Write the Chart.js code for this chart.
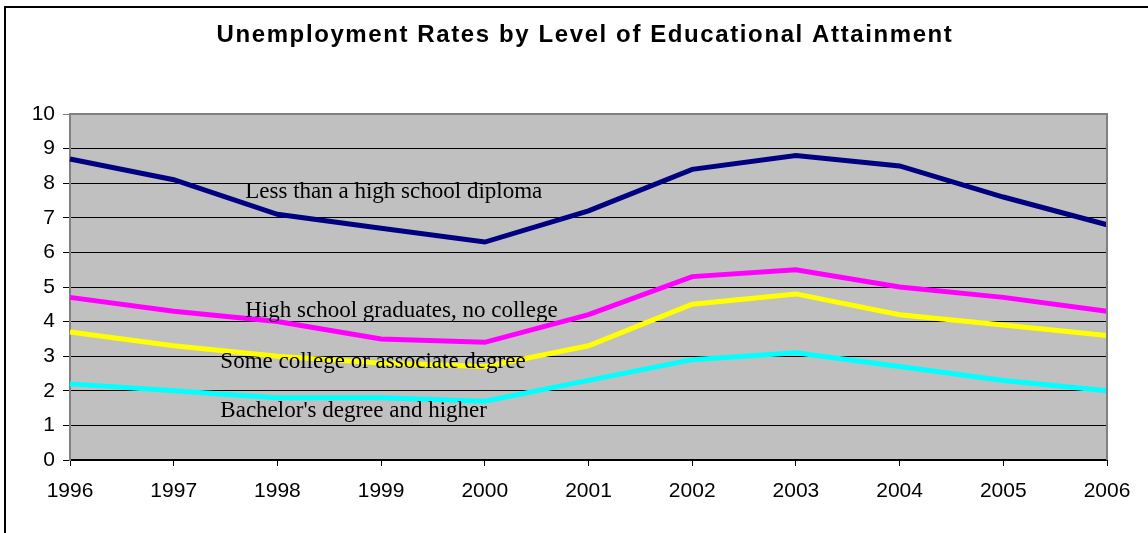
<!DOCTYPE html>
<html>
<head>
<meta charset="utf-8">
<script src="https://cdn.jsdelivr.net/npm/chart.js@4/dist/chart.umd.min.js"></script>
<style>
html,body{margin:0;padding:0;background:#fff;}
#wrap{width:1148px;height:533px;position:relative;}
</style>
</head>
<body>
<div id="wrap"><canvas id="c" width="1148" height="533"></canvas></div>
<script>
const years = ['1996','1997','1998','1999','2000','2001','2002','2003','2004','2005','2006'];
const lessThanHS = [8.7, 8.1, 7.1, 6.7, 6.3, 7.2, 8.4, 8.8, 8.5, 7.6, 6.8];
const hsGrads    = [4.7, 4.3, 4.0, 3.5, 3.4, 4.2, 5.3, 5.5, 5.0, 4.7, 4.3];
const someCollege= [3.7, 3.3, 3.0, 2.8, 2.7, 3.3, 4.5, 4.8, 4.2, 3.9, 3.6];
const bachelors  = [2.2, 2.0, 1.8, 1.8, 1.7, 2.3, 2.9, 3.1, 2.7, 2.3, 2.0];
const seriesNames = ['Less than a high school diploma','High school graduates, no college','Some college or associate degree',"Bachelor's degree and higher"];
const titleText = 'Unemployment Rates by Level of Educational Attainment';

// label anchors (category index, value) for in-plot text labels
const labelAnchors = [[1.69, 7.57],[1.69, 4.14],[1.45, 2.66],[1.45, 1.25]];

const bgPlugin = {
  id: 'bg',
  beforeDraw(chart) {
    const {ctx, chartArea:a} = chart;
    ctx.save();
    ctx.fillStyle = '#C0C0C0';
    ctx.fillRect(a.left, a.top, a.right - a.left, a.bottom - a.top);
    ctx.restore();
  },
  afterDraw(chart) {
    const {ctx, chartArea:a} = chart;
    ctx.save();
    ctx.strokeStyle = '#808080';
    ctx.lineWidth = 2;
    ctx.beginPath();
    ctx.moveTo(a.left, a.top); ctx.lineTo(a.right, a.top); ctx.lineTo(a.right, a.bottom);
    ctx.stroke();
    // outer frame
    ctx.strokeStyle = '#000';
    ctx.lineWidth = 2;
    ctx.beginPath();
    ctx.moveTo(1148, 7); ctx.lineTo(5, 7); ctx.lineTo(5, 533);
    ctx.stroke();
    // title
    ctx.font = 'bold 24px Arial, "Liberation Sans", sans-serif';
    ctx.fillStyle = '#000';
    ctx.textAlign = 'center';
    ctx.textBaseline = 'alphabetic';
    try { ctx.letterSpacing = '1.6px'; } catch(e) {}
    ctx.fillText(titleText, 585, 42);
    ctx.restore();
  },
  afterDatasetsDraw(chart) {
    const {ctx, scales} = chart;
    ctx.save();
    ctx.font = '23px "Liberation Serif", "Times New Roman", serif';
    ctx.fillStyle = '#000';
    ctx.textBaseline = 'alphabetic';
    ctx.textAlign = 'left';
    seriesNames.forEach((n, i) => {
      const x = scales.x.getPixelForValue(labelAnchors[i][0]);
      const y = scales.y.getPixelForValue(labelAnchors[i][1]);
      ctx.fillText(n, x, y);
    });
    ctx.restore();
  }
};

const colors = ['#000080','#FF00FF','#FFFF00','#00FFFF'];
const dataSets = [lessThanHS, hsGrads, someCollege, bachelors];

new Chart(document.getElementById('c'), {
  type: 'line',
  data: {
    labels: years,
    datasets: dataSets.map((d, i) => ({
      label: seriesNames[i],
      data: d,
      borderColor: colors[i],
      backgroundColor: colors[i],
      borderWidth: 5,
      pointRadius: 0,
      tension: 0,
      fill: false
    }))
  },
  options: {
    responsive: false,
    animation: false,
    layout: { padding: { left: 0, right: 41, top: 114, bottom: 0 } },
    plugins: {
      legend: { display: false },
      tooltip: { enabled: false },
      title: { display: false }
    },
    scales: {
      x: {
        offset: false,
        afterFit(s) { s.height = 73; },
        grid: { display: true, drawOnChartArea: false, drawTicks: true, tickLength: 6, color: '#000' },
        border: { display: true, color: '#000', width: 2 },
        ticks: { color: '#000', padding: 13, maxRotation: 0, autoSkip: false,
          font: { family: 'Arial, "Liberation Sans", sans-serif', size: 21 } }
      },
      y: {
        min: 0, max: 10,
        afterFit(s) { s.width = 70; },
        grid: { color: (c) => c.tick && c.tick.value === 10 ? '#808080' : '#000', lineWidth: 1, tickLength: 7, drawTicks: true },
        border: { display: true, color: '#808080', width: 2 },
        ticks: { stepSize: 1, color: '#000', padding: 8,
          font: { family: 'Arial, "Liberation Sans", sans-serif', size: 21 } }
      }
    }
  },
  plugins: [bgPlugin]
});
</script>
</body>
</html>
